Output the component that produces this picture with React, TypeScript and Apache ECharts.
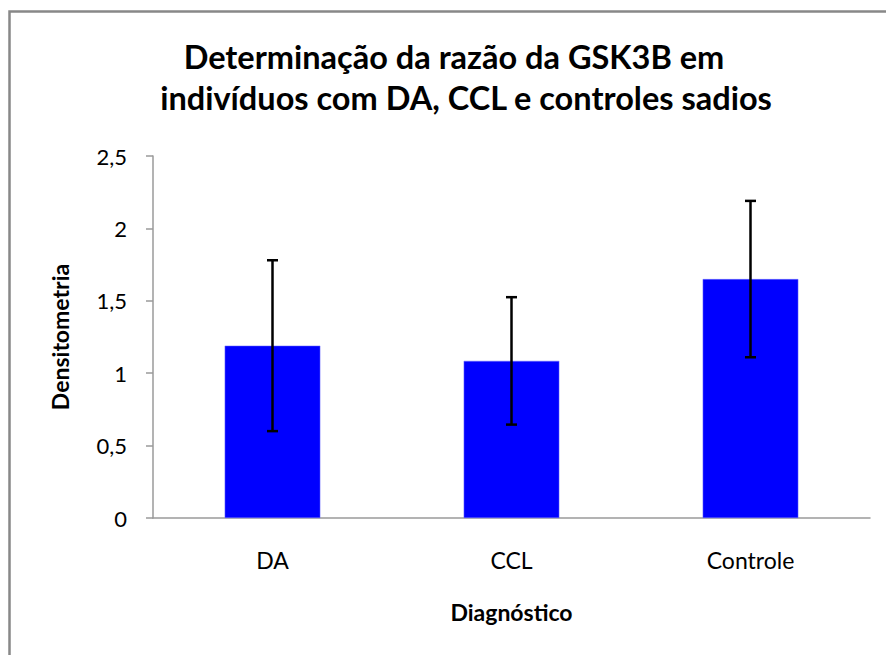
import React, { useEffect, useRef } from "react";
import * as echarts from "echarts";

const categories = ["DA", "CCL", "Controle"];
const means = [1.19, 1.085, 1.65];
const errors = [0.59, 0.44, 0.54];
const yTicks = { min: 0, max: 2.5, interval: 0.5 };
const titleLines = [
  "Determinação da razão da GSK3B em",
  "indivíduos com DA, CCL e controles sadios",
];
const xName = "Diagnóstico";
const yName = "Densitometria";

const FONT = "Lato, 'Open Sans', sans-serif";

export default function App() {
  const ref = useRef<HTMLDivElement>(null);
  useEffect(() => {
    if (!ref.current) return;
    const chart = echarts.init(ref.current, null, { renderer: "svg" });
    const errStyle = { stroke: "#000", lineWidth: 2.5 };
    const titleStyle = {
      fontFamily: FONT,
      fontSize: 32.5,
      fontWeight: "bold",
      fill: "#000",
      align: "center",
      verticalAlign: "middle",
    };
    chart.setOption({
      animation: false,
      backgroundColor: "#fff",
      textStyle: { fontFamily: FONT },
      graphic: [
        {
          type: "rect",
          shape: { x: 9.5, y: 11.5, width: 900, height: 700 },
          style: { fill: "none", stroke: "#888", lineWidth: 2.5 },
          silent: true,
        },
        {
          type: "text",
          x: 454,
          y: 56,
          style: { ...titleStyle, text: titleLines[0] },
        },
        {
          type: "text",
          x: 466,
          y: 97,
          style: { ...titleStyle, text: titleLines[1] },
        },
      ],
      grid: { left: 153, right: 16, top: 156, bottom: 137, containLabel: false },
      xAxis: {
        type: "category",
        data: categories,
        name: xName,
        nameLocation: "middle",
        nameGap: 82,
        nameTextStyle: { fontFamily: FONT, fontSize: 23, fontWeight: "bold", color: "#000" },
        axisLine: { show: true, lineStyle: { color: "#9a9a9a", width: 1.5 } },
        axisTick: { show: false },
        axisLabel: { margin: 30, fontFamily: FONT, fontSize: 23, color: "#000" },
        splitLine: { show: false },
      },
      yAxis: {
        type: "value",
        min: yTicks.min,
        max: yTicks.max,
        interval: yTicks.interval,
        name: yName,
        nameLocation: "middle",
        nameGap: 82,
        nameTextStyle: { fontFamily: FONT, fontSize: 23, fontWeight: "bold", color: "#000" },
        axisLine: { show: true, lineStyle: { color: "#9a9a9a", width: 1.5 } },
        axisTick: { show: true, length: 7, lineStyle: { color: "#9a9a9a", width: 1.5 } },
        axisLabel: {
          margin: 26,
          fontFamily: FONT,
          fontSize: 22,
          color: "#000",
          formatter: (v: number) => String(v).replace(".", ","),
        },
        splitLine: { show: false },
      },
      series: [
        {
          type: "bar",
          data: means,
          barCategoryGap: "60%",
          itemStyle: { color: "#0000ff", borderColor: "#6f6fff", borderWidth: 0.5 },
          silent: true,
        },
        {
          type: "custom",
          data: categories.map((_, i) => [i, means[i] - errors[i], means[i] + errors[i]]),
          encode: { x: 0, y: [1, 2] },
          z: 10,
          silent: true,
          renderItem: (params: any, api: any) => {
            const idx = api.value(0);
            const lo = api.coord([idx, api.value(1)]);
            const hi = api.coord([idx, api.value(2)]);
            const half = 5.5;
            return {
              type: "group",
              children: [
                { type: "line", shape: { x1: lo[0], y1: lo[1], x2: hi[0], y2: hi[1] }, style: errStyle },
                { type: "line", shape: { x1: lo[0] - half, y1: lo[1], x2: lo[0] + half, y2: lo[1] }, style: errStyle },
                { type: "line", shape: { x1: hi[0] - half, y1: hi[1], x2: hi[0] + half, y2: hi[1] }, style: errStyle },
              ],
            };
          },
        },
      ],
    });
    return () => chart.dispose();
  }, []);
  return (
    <div
      ref={ref}
      style={{ position: "absolute", left: 0, top: 0, width: 886, height: 655 }}
    />
  );
}
